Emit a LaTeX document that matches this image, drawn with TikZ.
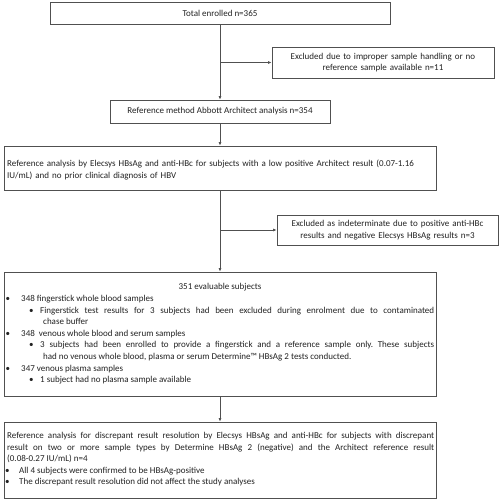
\documentclass[tikz,border=0pt]{standalone}
\usepackage{fontspec}
\setmainfont{Carlito}
\usetikzlibrary{arrows.meta}
\definecolor{linec}{HTML}{505050}
\definecolor{txtc}{HTML}{222222}
\frenchspacing
\begin{document}
\begin{tikzpicture}[x=1pt,y=-1pt,
  box/.style={draw=linec, line width=0.8pt, rectangle, inner sep=0pt, text=txtc,
     font=\fontsize{9}{11.6}\selectfont, align=center},
  para/.style={inner sep=0pt, text=txtc, font=\fontsize{9}{11.6}\selectfont},
  arr/.style={draw=linec, line width=0.8pt, -{Latex[length=3.5pt,width=3pt]}}
]
\useasboundingbox (0,0) rectangle (500,500);
\fill[white] (0,0) rectangle (500,500);

% boxes
\node[box, minimum width=340pt, minimum height=22pt] (tot) at (220,13) {Total enrolled n=365};
\node[box, minimum width=222pt, minimum height=31pt, text width=215pt] (ex1) at (383,62.5)
  {Excluded due to improper sample handling or no\\ reference sample available n=11};
\node[box, minimum width=220pt, minimum height=23pt] (ref) at (220,111.5)
  {Reference method Abbott Architect analysis n=354};
\node[box, minimum width=432pt, minimum height=44pt] (rea) at (220,168) {};
\node[box, minimum width=221pt, minimum height=30pt, text width=215pt] (ex2) at (387.5,230)
  {Excluded as indeterminate due to positive anti-HBc\\ results and negative Elecsys HBsAg results n=3};
\node[box, minimum width=432pt, minimum height=124pt] (ev) at (220,334) {};
\node[box, minimum width=432pt, minimum height=76pt] (dis) at (220,460) {};

% texts inside the large boxes
\node[para, anchor=north west, text width=440pt, align=left] (reaT) at (7,158.6)
  {\strut Reference analysis by Elecsys HBsAg and anti-HBc for subjects with a low positive Architect result (0.07-1.16\\
   IU/mL) and no prior clinical diagnosis of HBV};

\node[para, anchor=north, align=center] (evTitle) at (220,281.1) {\strut 351 evaluable subjects};

\node[para, anchor=north west, text width=429pt, align=justify] (evT) at (5,293.1) {%
\frenchspacing\parindent=0pt\strut\makebox[16pt][l]{\hspace{0.5pt}\textbullet}348 fingerstick whole blood samples\par
\hangindent=38pt\hangafter=1\hspace{24pt}\makebox[11pt][l]{\textbullet}Fingerstick test results for 3 subjects had been excluded during enrolment due to contaminated\linebreak chase buffer\par
\makebox[16pt][l]{\hspace{0.5pt}\textbullet}348\ \ venous whole blood and serum samples\par
\hangindent=38pt\hangafter=1\hspace{24pt}\makebox[11pt][l]{\textbullet}3 subjects had been enrolled to provide a fingerstick and a reference sample only. These subjects\linebreak had no venous whole blood, plasma or serum Determine™ HBsAg 2 tests conducted.\par
\makebox[16pt][l]{\hspace{0.5pt}\textbullet}347 venous plasma samples\par
\hspace{24pt}\makebox[11pt][l]{\textbullet}1 subject had no plasma sample available\par};

\node[para, anchor=north west, text width=427pt, align=justify] (disT) at (7,430.1) {%
\frenchspacing\parindent=0pt\strut Reference analysis for discrepant result resolution by Elecsys HBsAg and anti-HBc for subjects with discrepant\linebreak result on two or more sample types by Determine HBsAg 2 (negative) and the Architect reference result\linebreak (0.08-0.27 IU/mL) n=4\par
\hspace{-2pt}\makebox[14pt][l]{\textbullet}All 4 subjects were confirmed to be HBsAg-positive\par
\hspace{-2pt}\makebox[14pt][l]{\textbullet}The discrepant result resolution did not affect the study analyses\par};

% connectors
\draw[arr] (tot.south) -- (ref.north);
\draw[arr] (tot.south |- ex1.west) -- (ex1.west);
\draw[arr] (ref.south) -- (rea.north);
\draw[arr] (rea.south) -- (ev.north);
\draw[arr] (rea.south |- ex2.west) -- (ex2.west);
\draw[arr] (ev.south) -- (dis.north);
\end{tikzpicture}
\end{document}
